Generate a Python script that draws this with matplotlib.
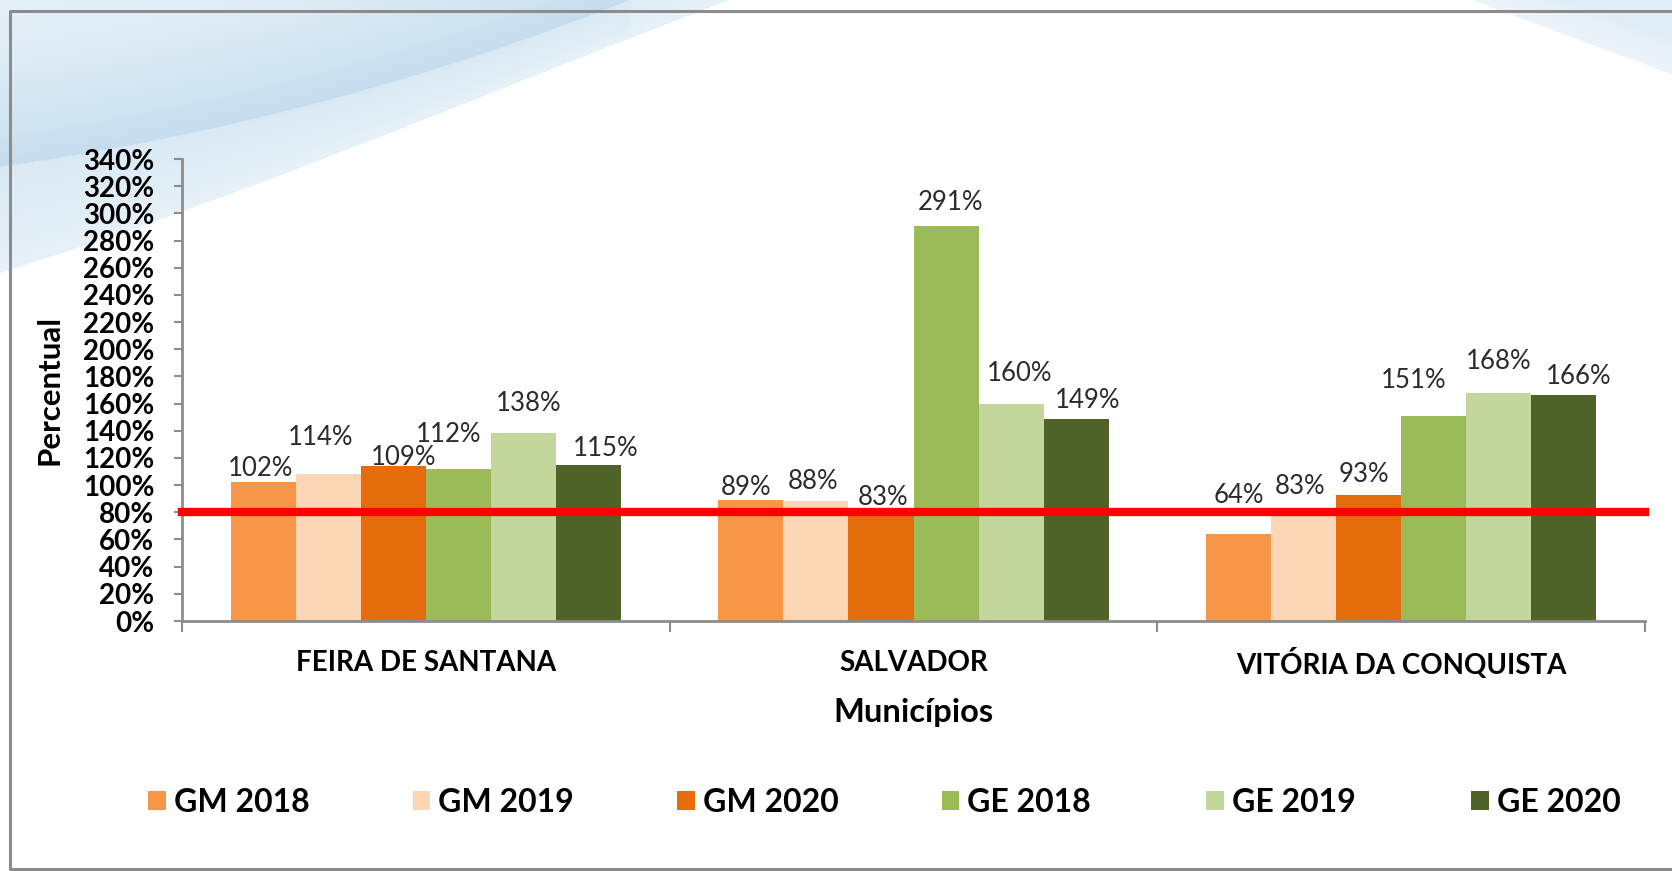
import numpy as np
import matplotlib
matplotlib.use("Agg")
import matplotlib.pyplot as plt
from matplotlib.patches import Patch
from matplotlib.ticker import PercentFormatter

plt.rcParams['font.family'] = ['Lato', 'DejaVu Sans']

# data
municipios = ["FEIRA DE SANTANA", "SALVADOR", "VITÓRIA DA CONQUISTA"]
series = ["GM 2018", "GM 2019", "GM 2020", "GE 2018", "GE 2019", "GE 2020"]
gm_2018 = [102, 89, 64]
gm_2019 = [108, 88, 83]
gm_2020 = [114, 83, 93]
ge_2018 = [112, 291, 151]
ge_2019 = [138, 160, 168]
ge_2020 = [115, 149, 166]
# label texts as printed on the chart (Feira GM 2019 / GM 2020 differ from bar heights)
rotulos = [
    ["102%", "89%", "64%"],
    ["114%", "88%", "83%"],
    ["109%", "83%", "93%"],
    ["112%", "291%", "151%"],
    ["138%", "160%", "168%"],
    ["115%", "149%", "166%"],
]
meta = 80

cores = ["#F79646", "#FCD5B5", "#E46C0A", "#9BBB59", "#C3D69B", "#4F6228"]

# label nudges (percent points above bar top, pixels sideways)
lab_dy = [[10, 9, 28], [27, 15, 16], [6, 8, 15], [25, 17, 26], [22, 22, 23], [12, 13, 14]]
lab_dx = [[-3, -5, 0], [-8, -3, -4], [10, 2, -5], [-10, 4, -20], [5, 9, 0], [17, 12, 15]]

W, H = 1672, 871
fig = plt.figure(figsize=(W / 100, H / 100), dpi=100)
fig.patch.set_facecolor("white")

# background swoosh + frame
bg = fig.add_axes([0, 0, 1, 1], zorder=-1)
bg.axis("off")


def bezier(pts, n=200):
    t = np.linspace(0, 1, n)[:, None]
    pts = [np.array(p, dtype=float) for p in pts]
    k = len(pts) - 1
    from math import comb
    out = sum(comb(k, i) * (1 - t) ** (k - i) * t ** i * p for i, p in enumerate(pts))
    return out[:, 0], out[:, 1]


xs = np.arange(W, dtype=float)
bx, by = bezier([(0, 273), (250, 195), (480, 95), (730, 0)])
y_outer = np.interp(xs, bx, by, right=-50)
bx, by = bezier([(0, 167), (330, 120), (630, 0)])
y_dark = np.interp(xs, bx, by, right=-50)

yy, xx = np.mgrid[0:H, 0:W].astype(float)
yo = y_outer[None, :]
yd = y_dark[None, :]
alpha = np.zeros((H, W))
strip = (yy > yd) & (yy <= yo)
alpha[strip] = (0.40 + 0.2 * ((yo - yy) / np.maximum(yo - yd, 1)))[strip]
band = yy <= yd
dist = yd - yy
alpha[band] = (0.25 + 0.7 * np.exp(-dist / 120.0))[band]
# top right corner swoosh
y_tr = (xx - 1470) * 75 / (W - 1470)
tr = (xx > 1470) & (yy < y_tr)
alpha[tr] = (0.3 + 0.2 * np.clip((y_tr - yy) / 40, 0, 1))[tr]
rgba = np.zeros((H, W, 4))
rgba[..., 0] = 0.76
rgba[..., 1] = 0.86
rgba[..., 2] = 0.93
rgba[..., 3] = np.clip(alpha, 0, 1)
bg.imshow(rgba, extent=(0, W, H, 0), interpolation="bilinear", aspect="auto")
bg.plot([W + 5, 10, 10, W + 5], [11, 11, 869, 869], color="#8c8c8c", lw=2.2)
bg.set_xlim(0, W)
bg.set_ylim(H, 0)

ax = fig.add_axes([182 / W, 1 - 621 / H, (1645 - 182) / W, (621 - 159) / H])
ax.set_facecolor("none")

valores = [gm_2018, gm_2019, gm_2020, ge_2018, ge_2019, ge_2020]
x = np.arange(len(municipios))
w = 0.8 / len(series)
for i, (nome, vals) in enumerate(zip(series, valores)):
    pos = x + (i - 2.5) * w
    ax.bar(pos, vals, width=w, color=cores[i], label=nome, zorder=2)
    for j in range(len(municipios)):
        ax.annotate(rotulos[i][j], (pos[j], vals[j] + lab_dy[i][j]),
                    xytext=(lab_dx[i][j] * 0.72, 0), textcoords="offset points",
                    ha="center", va="center", fontsize=18.5, color="#2b2b2b", zorder=4)

ax.axhline(meta, color="#FF0000", lw=6, zorder=3, clip_on=False)

ax.set_ylim(0, 340)
ax.set_xlim(-0.5, 2.5)
ax.set_yticks(np.arange(0, 341, 20))
ax.yaxis.set_major_formatter(PercentFormatter(decimals=0))
ax.tick_params(axis="y", length=6, width=1.5, color="#8c8c8c", pad=14, labelsize=20)
for t in ax.get_yticklabels():
    t.set_fontweight("bold")

ax.set_xticks([-0.5, 0.5, 1.5, 2.5])
ax.set_xticklabels([])
ax.tick_params(axis="x", which="major", length=8, width=1.5, color="#8c8c8c")

tr_x = ax.get_xaxis_transform()
for j, nome in enumerate(municipios):
    ax.text(x[j], -0.091, nome, transform=tr_x, ha="center", va="center",
            fontsize=20, fontweight="bold")

for s in ["top", "right"]:
    ax.spines[s].set_visible(False)
for s in ["left", "bottom"]:
    ax.spines[s].set_color("#8c8c8c")
    ax.spines[s].set_linewidth(2)

ax.text(0.5, -0.197, "Municípios", transform=ax.transAxes, ha="center", va="center",
        fontsize=23.5, fontweight="bold")
ax.set_ylabel("Percentual", fontsize=22.5, fontweight="bold")
ax.yaxis.set_label_coords(-0.081, 0.5)

# legend: six equally spaced entries, like the original
leg_x0, leg_step = 148, 264.6
for i, (nome, c) in enumerate(zip(series, cores)):
    fig.legend([Patch(facecolor=c, edgecolor="none")], [nome], loc="center left",
               bbox_to_anchor=((leg_x0 + i * leg_step) / W, 1 - 802 / H),
               frameon=False, prop={"size": 23, "weight": "bold"},
               handlelength=0.55, handleheight=0.55, handletextpad=0.25,
               borderpad=0, borderaxespad=0)

fig.savefig("out.png", dpi=100, facecolor=fig.get_facecolor())
